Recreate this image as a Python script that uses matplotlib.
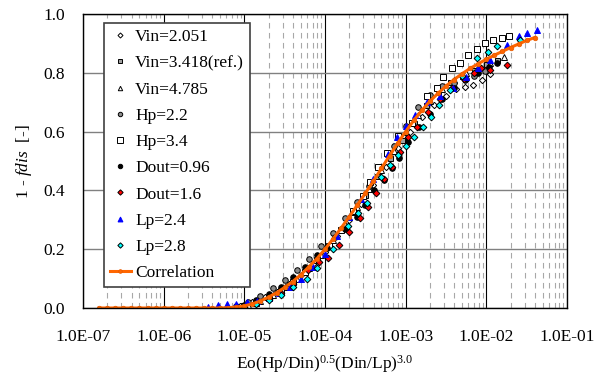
import numpy as np
import matplotlib.pyplot as plt
from matplotlib.ticker import FuncFormatter, FixedLocator

plt.rcParams['font.family'] = ['Liberation Serif', 'DejaVu Serif']
plt.rcParams['mathtext.fontset'] = 'custom'
plt.rcParams['mathtext.rm'] = 'Liberation Serif'
plt.rcParams['mathtext.it'] = 'Liberation Serif:italic'

# measured series: log10(x) and 1 - fdis
vin1_lx = [-5.05, -4.9, -4.75, -4.6, -4.45, -4.3, -4.15, -4.0, -3.85, -3.7, -3.55, -3.4,
           -3.25, -3.1, -2.95, -2.8, -2.65, -2.5, -2.37, -2.27, -2.17, -2.05, -1.95]
vin1_y = [0.008, 0.02, 0.036, 0.055, 0.082, 0.112, 0.15, 0.19, 0.245, 0.3, 0.355, 0.42,
          0.48, 0.545, 0.6, 0.65, 0.69, 0.72, 0.745, 0.752, 0.76, 0.775, 0.795]

vin2_lx = [-5.0, -4.85, -4.7, -4.55, -4.4, -4.25, -4.1, -3.95, -3.8, -3.65, -3.5,
           -3.35, -3.2, -3.05, -2.9, -2.75, -2.6, -2.45, -2.3, -2.15, -2.0, -1.87]
vin2_y = [0.008, 0.022, 0.042, 0.065, 0.095, 0.128, 0.168, 0.215, 0.27, 0.325, 0.385,
          0.45, 0.51, 0.57, 0.63, 0.69, 0.735, 0.77, 0.79, 0.81, 0.83, 0.845]

vin3_lx = [-4.95, -4.8, -4.65, -4.5, -4.35, -4.2, -4.05, -3.9, -3.75, -3.6, -3.45,
           -3.3, -3.15, -3.0, -2.85, -2.7, -2.55, -2.4, -2.25, -2.1, -1.95, -1.78]
vin3_y = [0.01, 0.025, 0.045, 0.072, 0.1, 0.135, 0.18, 0.23, 0.285, 0.345, 0.405,
          0.47, 0.535, 0.6, 0.655, 0.705, 0.745, 0.775, 0.8, 0.82, 0.835, 0.855]

hp1_lx = [-5.1, -4.95, -4.8, -4.65, -4.5, -4.35, -4.2, -4.05, -3.9, -3.75, -3.6,
          -3.45, -3.3, -3.15, -3.0, -2.85, -2.7, -2.55, -2.4, -2.27, -2.15, -2.02]
hp1_y = [0.008, 0.022, 0.042, 0.068, 0.095, 0.13, 0.165, 0.21, 0.255, 0.305, 0.36,
         0.415, 0.48, 0.55, 0.62, 0.685, 0.725, 0.755, 0.765, 0.775, 0.79, 0.805]

hp2_lx = [-5.0, -4.85, -4.7, -4.55, -4.4, -4.25, -4.1, -3.95, -3.8, -3.65, -3.53,
          -3.44, -3.34, -3.23, -3.1, -2.92, -2.74, -2.61, -2.54, -2.43, -2.33, -2.23,
          -2.12, -2.02, -1.92, -1.81, -1.72]
hp2_y = [0.006, 0.018, 0.035, 0.058, 0.088, 0.122, 0.162, 0.21, 0.265, 0.33, 0.38,
         0.43, 0.48, 0.527, 0.585, 0.63, 0.72, 0.75, 0.785, 0.815, 0.835, 0.86,
         0.88, 0.9, 0.91, 0.92, 0.925]

dout1_lx = [-5.0, -4.85, -4.7, -4.55, -4.4, -4.25, -4.1, -3.98, -3.88, -3.75, -3.6,
            -3.5, -3.39, -3.27, -3.17, -3.08, -2.97, -2.83, -2.7, -2.55, -2.4, -2.25,
            -2.1, -1.97, -1.87]
dout1_y = [0.01, 0.026, 0.048, 0.072, 0.105, 0.14, 0.18, 0.204, 0.24, 0.27, 0.31,
           0.35, 0.4, 0.435, 0.476, 0.51, 0.565, 0.616, 0.66, 0.71, 0.75, 0.78,
           0.8, 0.82, 0.835]

dout2_lx = [-5.0, -4.85, -4.7, -4.55, -4.4, -4.21, -4.08, -3.96, -3.83, -3.7, -3.57,
            -3.47, -3.37, -3.27, -3.17, -3.07, -2.97, -2.86, -2.72, -2.58, -2.43,
            -2.28, -2.15, -2.06, -1.96, -1.75]
dout2_y = [0.005, 0.016, 0.032, 0.052, 0.082, 0.128, 0.155, 0.17, 0.215, 0.26, 0.306,
           0.345, 0.39, 0.44, 0.48, 0.53, 0.58, 0.616, 0.665, 0.71, 0.75,
           0.78, 0.8, 0.815, 0.81, 0.826]

lp1_lx = [-5.45, -5.33, -5.22, -5.1, -4.97, -4.84, -4.7, -4.57, -4.43, -4.3, -4.15,
          -4.0, -3.85, -3.7, -3.55, -3.4, -3.22, -3.11, -3.0, -2.89, -2.74, -2.58,
          -2.41, -2.25, -2.1, -1.95, -1.75, -1.6, -1.49, -1.37]
lp1_y = [0.005, 0.01, 0.015, 0.015, 0.02, 0.025, 0.035, 0.05, 0.072, 0.1, 0.14,
         0.185, 0.245, 0.31, 0.37, 0.44, 0.525, 0.58, 0.62, 0.656, 0.7, 0.72,
         0.75, 0.785, 0.815, 0.845, 0.895, 0.925, 0.935, 0.945]

lp2_lx = [-5.0, -4.85, -4.7, -4.55, -4.4, -4.22, -4.1, -3.9, -3.72, -3.59, -3.48,
          -3.3, -3.2, -3.1, -2.99, -2.9, -2.79, -2.69, -2.59, -2.45, -2.3, -2.12,
          -1.98, -1.87, -1.58]
lp2_y = [0.004, 0.012, 0.026, 0.045, 0.07, 0.1, 0.136, 0.2, 0.28, 0.323, 0.357,
         0.446, 0.487, 0.52, 0.55, 0.58, 0.615, 0.65, 0.69, 0.74, 0.79, 0.85,
         0.87, 0.89, 0.91]

# correlation curve
corr_lx = [-6.8, -6.7, -6.6, -6.5, -6.4, -6.3, -6.2, -6.1, -6.0, -5.9, -5.8, -5.7,
           -5.6, -5.5, -5.4, -5.3, -5.2, -5.1, -5.0, -4.9, -4.8, -4.7, -4.6, -4.5,
           -4.4, -4.3, -4.2, -4.1, -4.0, -3.9, -3.8, -3.7, -3.6, -3.5, -3.4, -3.3,
           -3.2, -3.1, -3.0, -2.9, -2.8, -2.7, -2.6, -2.5, -2.4, -2.3, -2.2, -2.1,
           -2.0, -1.9, -1.8, -1.7, -1.6, -1.5, -1.4]
corr_y = [0.0, 0.0, 0.0, 0.0, 0.0, 0.0, 0.0, 0.0, 0.0, 0.0, 0.0, 0.0,
          0.0, 0.0, 0.0, 0.0, 0.001, 0.003, 0.007, 0.014, 0.024, 0.037, 0.052, 0.07,
          0.09, 0.113, 0.14, 0.168, 0.2, 0.235, 0.272, 0.31, 0.35, 0.39, 0.432, 0.475,
          0.518, 0.56, 0.6, 0.638, 0.672, 0.703, 0.73, 0.755, 0.777, 0.797, 0.815, 0.831,
          0.846, 0.86, 0.873, 0.886, 0.898, 0.91, 0.92]

x_ticks = [1e-7, 1e-6, 1e-5, 1e-4, 1e-3, 1e-2, 1e-1]
y_ticks = [0.0, 0.2, 0.4, 0.6, 0.8, 1.0]

series = [
    ('Vin=2.051', vin1_lx, vin1_y, 'D', 'white', 3.2),
    ('Vin=3.418(ref.)', vin2_lx, vin2_y, 's', '#a0a0a0', 3.6),
    ('Vin=4.785', vin3_lx, vin3_y, '^', 'white', 4.0),
    ('Hp=2.2', hp1_lx, hp1_y, 'o', '#8c8c8c', 4.0),
    ('Hp=3.4', hp2_lx, hp2_y, 's', 'white', 4.6),
    ('Dout=0.96', dout1_lx, dout1_y, 'o', 'black', 4.0),
    ('Dout=1.6', dout2_lx, dout2_y, 'D', '#ff0000', 3.4),
    ('Lp=2.4', lp1_lx, lp1_y, '^', '#0000ff', 4.4),
    ('Lp=2.8', lp2_lx, lp2_y, 'D', '#00ffff', 3.4),
]

fig = plt.figure(figsize=(6.09, 3.76), dpi=100)
ax = fig.add_axes([83/609, 1-308/376, 484/609, 294/376])

for name, lx, y, mk, fc, ms in series:
    edge = '#0000ff' if fc == '#0000ff' else 'black'
    ax.plot(10**np.array(lx), y, linestyle='none', marker=mk, ms=ms,
            mfc=fc, mec=edge, mew=0.7, label=name)

ax.plot(10**np.array(corr_lx), corr_y, color='#ff6600', lw=2.2, marker='o', ms=3.3,
        mfc='#ff6600', mec='#e55a00', mew=0.5, label='Correlation')

ax.set_xscale('log')
ax.set_xlim(1e-7, 1e-1)
ax.set_ylim(0, 1.0)
ax.yaxis.set_major_locator(FixedLocator(y_ticks))
ax.yaxis.set_major_formatter(FuncFormatter(lambda v, p: '%.1f' % v))
ax.xaxis.set_major_locator(FixedLocator(x_ticks))
minor = [m * d for d in x_ticks[:-1] for m in range(2, 10)]
ax.xaxis.set_minor_locator(FixedLocator(minor))
ax.xaxis.set_major_formatter(FuncFormatter(lambda v, p: '%.1E' % v))
ax.xaxis.set_minor_formatter(FuncFormatter(lambda v, p: ''))

ax.set_axisbelow(True)
ax.grid(which='major', axis='x', color='black', lw=0.8)
ax.grid(which='major', axis='y', color='#808080', lw=1.0)
ax.grid(which='minor', axis='x', color='#a8a8a8', lw=0.8, linestyle=(0, (5, 4)))

ax.tick_params(which='both', length=0, labelsize=12.5)
ax.tick_params(axis='x', pad=15)
ax.tick_params(axis='y', pad=13)
for s in ax.spines.values():
    s.set_color('black')
    s.set_linewidth(1.0)

ax.set_xlabel(r'Eo(Hp/Din)$^{0.5}$(Din/Lp)$^{3.0}$', fontsize=12.5, labelpad=6)
ax.set_ylabel(r'1 - $\mathit{fdis}$  [-]', fontsize=12.5, labelpad=7)

leg = ax.legend(loc='upper left', bbox_to_anchor=(21/484, 1-9/294), borderaxespad=0,
                fontsize=12.5, frameon=True, fancybox=False, framealpha=1,
                edgecolor='#404040', borderpad=0.35, labelspacing=0.58,
                handlelength=1.2, handletextpad=0.25, markerscale=0.8)
leg.get_frame().set_linewidth(1.2)

fig.savefig('out.png', dpi=100)
